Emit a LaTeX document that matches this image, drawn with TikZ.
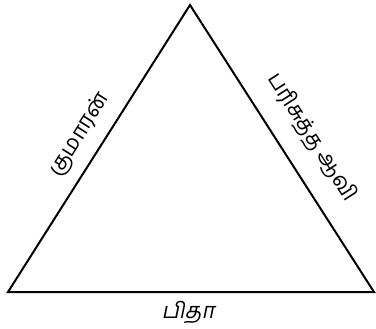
\documentclass[tikz,border=0pt]{standalone}
\usepackage{fontspec}
\newfontfamily\tamil[Script=Tamil]{Hind Madurai}
\newfontfamily\tamilsl[Script=Tamil,FakeSlant=0.2]{Hind Madurai}
\begin{document}
\begin{tikzpicture}[x=0.75pt,y=-0.75pt,
  edge/.style={line width=1.5pt},
  lbl/.style={inner sep=0pt,font=\tamil\fontsize{16.5pt}{19pt}\selectfont}]
\useasboundingbox (0,0) rectangle (376,329);
\coordinate (T) at (190,5);
\coordinate (L) at (8,292);
\coordinate (R) at (374,292);
\draw[edge,line join=miter] (L) -- (T) -- (R) -- cycle;
\node[lbl,rotate=57.6] (son) at (80,135) {குமாரன்};
\node[lbl,rotate=-57.3] (spirit) at (312,137) {பரிசுத்த ஆவி};
\node[lbl,font=\tamilsl\fontsize{16.5pt}{19pt}\selectfont] (father) at (188,312) {பிதா};
\end{tikzpicture}
\end{document}
